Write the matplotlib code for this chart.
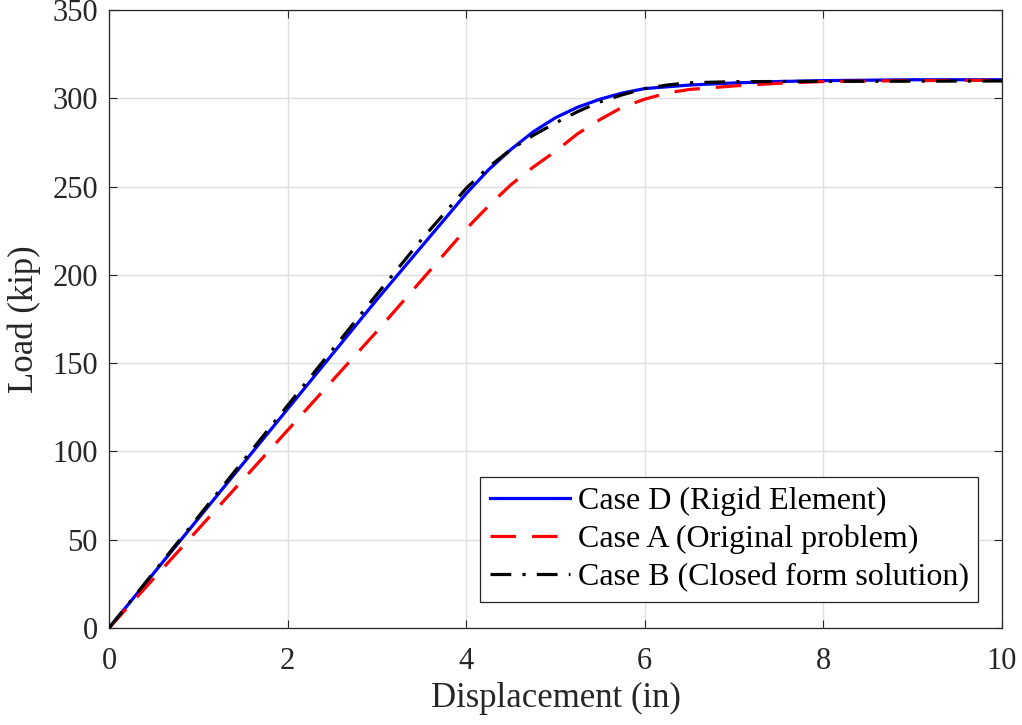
import matplotlib
matplotlib.use("Agg")
import matplotlib.pyplot as plt

# Load-displacement data (displacement in inches, load in kip)
disp_d = [0, 0.5, 1, 1.5, 2, 2.5, 3, 3.5, 4, 4.25, 4.5, 4.75, 5, 5.25, 5.5, 5.75, 6, 6.5, 7, 7.5, 8, 9, 10]
load_d = [0, 31, 62, 93, 124, 155, 186, 216, 246, 259.5, 271, 281, 289, 295, 299.5, 303, 305.5, 307.5, 308.7, 309.5, 310, 310.5, 310.5]

disp_a = [0, 0.5, 1, 1.5, 2, 2.5, 3, 3.5, 4, 4.25, 4.5, 4.75, 5, 5.25, 5.5, 5.75, 6, 6.25, 6.5, 6.75, 7, 7.5, 8, 9, 10]
load_a = [0, 28, 56, 84, 112, 140, 168, 197, 226, 239, 251, 261, 270, 280, 288, 295, 299.5, 303, 305, 306, 307, 308.5, 309.5, 310, 310.2]

disp_b = [0, 0.5, 1, 1.5, 2, 2.5, 3, 3.5, 4, 4.25, 4.5, 4.75, 5, 5.25, 5.5, 5.75, 6, 6.25, 6.5, 7, 8, 9, 10]
load_b = [0, 31.5, 63, 94.5, 126, 157.5, 189, 220, 249, 261, 271, 279, 286, 292.5, 298, 302, 305.5, 307.5, 308.8, 309.4, 309.6, 309.7, 309.8]

labels = ["Case D (Rigid Element)", "Case A (Original problem)", "Case B (Closed form solution)"]

plt.rcParams["font.family"] = ["Liberation Serif", "DejaVu Serif"]

fig = plt.figure(figsize=(10.22, 7.25), dpi=100)
ax = fig.add_axes([109 / 1022, 1 - 628 / 725, (1002 - 109) / 1022, (628 - 10) / 725])

lw = 2.3
ax.plot(disp_d, load_d, color="#0000ff", lw=lw, label=labels[0], zorder=3)
ax.plot(disp_a, load_a, color="#ff0000", lw=lw, dashes=(8, 5), label=labels[1], zorder=4)
ax.plot(disp_b, load_b, color="black", lw=lw, dashes=(6.5, 3.5, 1, 3.5), label=labels[2], zorder=5)

ax.set_xlim(0, 10)
ax.set_ylim(0, 350)
ax.set_xticks(range(0, 11, 2))
ax.set_yticks(range(0, 351, 50))
ax.grid(True, color="#dfdfdf", lw=1.0)
ax.set_axisbelow(True)
ax.tick_params(direction="in", top=True, right=True, labelsize=22, length=6, width=0.8,
               colors="#262626")
ax.tick_params(axis="x", pad=14)
ax.tick_params(axis="y", pad=8)
for lab in ax.get_xticklabels() + ax.get_yticklabels():
    lab.set_color("#262626")
for s in ax.spines.values():
    s.set_color("#262626")
    s.set_linewidth(0.9)

ax.set_xlabel("Displacement (in)", fontsize=25, labelpad=4, color="#262626")
ax.set_ylabel("Load (kip)", fontsize=25, labelpad=8, color="#262626")

leg = ax.legend(loc="lower right", bbox_to_anchor=(0.9735, 0.042), fontsize=23, fancybox=False,
                framealpha=1, edgecolor="#262626", borderpad=0.3, handlelength=2.5,
                handletextpad=0.25, labelspacing=0.28, borderaxespad=0)
leg.get_frame().set_linewidth(0.9)

fig.savefig("out.png", dpi=100)
